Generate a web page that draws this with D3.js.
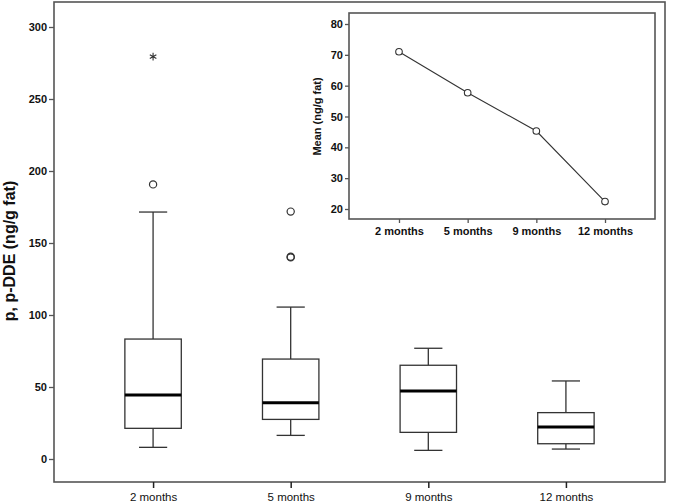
<!DOCTYPE html>
<html>
<head>
<meta charset="utf-8">
<script src="https://cdn.jsdelivr.net/npm/d3@7"></script>
<style>
  html, body { margin: 0; padding: 0; background: #fff; }
  svg { display: block; }
  text { font-family: "Liberation Sans", Arial, sans-serif; fill: #111; }
</style>
</head>
<body>
<svg id="chart" width="675" height="504"></svg>
<script>
// ---- data ----
const categories = ["2 months", "5 months", "9 months", "12 months"];
const whiskerLow  = [8.1, 16.4, 6.0, 6.9];
const q1          = [21.3, 27.5, 18.5, 10.6];
const medians     = [44.4, 39.1, 47.2, 22.2];
const q3          = [83.3, 69.4, 65.1, 32.2];
const whiskerHigh = [171.5, 105.5, 76.9, 54.2];
const outlierCats = ["2 months", "5 months", "5 months", "5 months"];
const outlierVals = [190.7, 171.8, 140.0, 140.4];
const extremeCats = ["2 months"];
const extremeVals = [279.4];
const yTicks = [0, 50, 100, 150, 200, 250, 300];
const means = [71.0, 57.7, 45.3, 22.4];
const insetTicks = [20, 30, 40, 50, 60, 70, 80];

const svg = d3.select("#chart");
const stroke = "#333";
const frameColor = "#555";

// ---- main boxplot ----
const M = { left: 54, right: 665, top: 2, bottom: 482 };
const x = d3.scalePoint().domain(categories).range([M.left, M.right]).padding(0.72);
const y = d3.scaleLinear().domain([0, 300]).range([459, 27]);

const boxW = x.step() * 0.41;
const capW = boxW / 2;

const g = svg.append("g");

// boxes
categories.forEach((c, i) => {
  const cx = x(c);
  const bg = g.append("g");
  // whiskers
  bg.append("line").attr("x1", cx).attr("x2", cx)
    .attr("y1", y(q3[i])).attr("y2", y(whiskerHigh[i]))
    .attr("stroke", stroke).attr("stroke-width", 1.3);
  bg.append("line").attr("x1", cx).attr("x2", cx)
    .attr("y1", y(q1[i])).attr("y2", y(whiskerLow[i]))
    .attr("stroke", stroke).attr("stroke-width", 1.3);
  bg.append("line").attr("x1", cx - capW / 2).attr("x2", cx + capW / 2)
    .attr("y1", y(whiskerHigh[i])).attr("y2", y(whiskerHigh[i]))
    .attr("stroke", stroke).attr("stroke-width", 1.3);
  bg.append("line").attr("x1", cx - capW / 2).attr("x2", cx + capW / 2)
    .attr("y1", y(whiskerLow[i])).attr("y2", y(whiskerLow[i]))
    .attr("stroke", stroke).attr("stroke-width", 1.3);
  // box
  bg.append("rect").attr("x", cx - boxW / 2).attr("width", boxW)
    .attr("y", y(q3[i])).attr("height", y(q1[i]) - y(q3[i]))
    .attr("fill", "#fff").attr("stroke", stroke).attr("stroke-width", 1.3);
  // median
  bg.append("line").attr("x1", cx - boxW / 2).attr("x2", cx + boxW / 2)
    .attr("y1", y(medians[i])).attr("y2", y(medians[i]))
    .attr("stroke", "#000").attr("stroke-width", 3);
});

// outliers
g.selectAll("circle.out").data(outlierVals).enter().append("circle")
  .attr("class", "out")
  .attr("cx", (d, i) => x(outlierCats[i]))
  .attr("cy", d => y(d))
  .attr("r", 3.6)
  .attr("fill", "none").attr("stroke", stroke).attr("stroke-width", 1.2);

// extremes (asterisk)
g.selectAll("path.ext").data(extremeVals).enter().append("path")
  .attr("class", "ext")
  .attr("transform", (d, i) => `translate(${x(extremeCats[i])},${y(d)})`)
  .attr("d", d3.symbol(d3.symbolAsterisk, 40)())
  .attr("fill", "none").attr("stroke", stroke).attr("stroke-width", 1.1);

// frame
svg.append("rect").attr("x", M.left).attr("y", M.top)
  .attr("width", M.right - M.left).attr("height", M.bottom - M.top)
  .attr("fill", "none").attr("stroke", frameColor).attr("stroke-width", 1.6);

// y axis
const yAxis = d3.axisLeft(y).tickValues(yTicks).tickSize(5).tickPadding(2);
const yg = svg.append("g").attr("transform", `translate(${M.left},0)`).call(yAxis);
yg.select(".domain").remove();
yg.selectAll(".tick line").attr("stroke", frameColor).attr("stroke-width", 1.3);
yg.selectAll(".tick text").attr("font-size", 11).attr("font-weight", "bold")
  .attr("font-family", "Liberation Sans, Arial, sans-serif").attr("fill", "#111");

// x axis
const xAxis = d3.axisBottom(x).tickSize(6).tickPadding(5);
const xg = svg.append("g").attr("transform", `translate(0,${M.bottom})`).call(xAxis);
xg.select(".domain").remove();
xg.selectAll(".tick line").attr("stroke", "#222").attr("stroke-width", 1.5);
xg.selectAll(".tick text").attr("font-size", 11.5)
  .attr("font-family", "Liberation Sans, Arial, sans-serif").attr("fill", "#111");

// y label
svg.append("text")
  .attr("transform", "translate(15,251) rotate(-90)")
  .attr("text-anchor", "middle")
  .attr("font-size", 16).attr("font-weight", "bold")
  .text("p, p-DDE (ng/g fat)");

// ---- inset mean plot ----
const I = { left: 349, right: 655, top: 13, bottom: 219 };
const xi = d3.scalePoint().domain(categories).range([I.left, I.right]).padding(0.728);
const yi = d3.scaleLinear().domain([20, 80]).range([209, 24]);

svg.append("rect").attr("x", I.left).attr("y", I.top)
  .attr("width", I.right - I.left).attr("height", I.bottom - I.top)
  .attr("fill", "#fff").attr("stroke", frameColor).attr("stroke-width", 1.6);

const line = d3.line().x((d, i) => xi(categories[i])).y(d => yi(d));
svg.append("path").datum(means).attr("d", line)
  .attr("fill", "none").attr("stroke", "#333").attr("stroke-width", 1.1);

svg.selectAll("circle.mean").data(means).enter().append("circle")
  .attr("class", "mean")
  .attr("cx", (d, i) => xi(categories[i]))
  .attr("cy", d => yi(d))
  .attr("r", 3.3)
  .attr("fill", "#fff").attr("stroke", "#333").attr("stroke-width", 1.1);

const yiAxis = d3.axisLeft(yi).tickValues(insetTicks).tickSize(4).tickPadding(2);
const yig = svg.append("g").attr("transform", `translate(${I.left},0)`).call(yiAxis);
yig.select(".domain").remove();
yig.selectAll(".tick line").attr("stroke", frameColor).attr("stroke-width", 1.3);
yig.selectAll(".tick text").attr("font-size", 11).attr("font-weight", "bold")
  .attr("font-family", "Liberation Sans, Arial, sans-serif").attr("fill", "#111");

const xiAxis = d3.axisBottom(xi).tickSize(4).tickPadding(4);
const xig = svg.append("g").attr("transform", `translate(0,${I.bottom})`).call(xiAxis);
xig.select(".domain").remove();
xig.selectAll(".tick line").attr("stroke", frameColor).attr("stroke-width", 1.3);
xig.selectAll(".tick text").attr("font-size", 11).attr("font-weight", "bold")
  .attr("font-family", "Liberation Sans, Arial, sans-serif").attr("fill", "#111");

svg.append("text")
  .attr("transform", "translate(321,116.5) rotate(-90)")
  .attr("text-anchor", "middle")
  .attr("font-size", 11).attr("font-weight", "bold")
  .text("Mean (ng/g fat)");
</script>
</body>
</html>
